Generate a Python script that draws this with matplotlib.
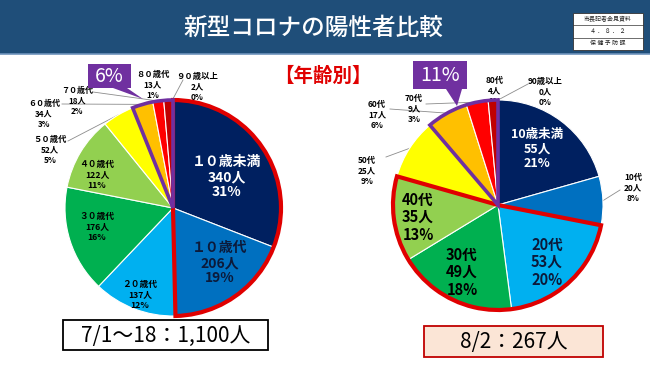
import matplotlib
matplotlib.use('Agg')
import matplotlib.pyplot as plt
from matplotlib.patches import Wedge, Rectangle, Polygon
import numpy as np

plt.rcParams['font.family'] = ['Noto Sans CJK JP', 'DejaVu Sans']

# ---------------- data ----------------
left_names = ['１０歳未満', '１０歳代', '２０歳代', '３０歳代', '４０歳代',
              '５０歳代', '６０歳代', '７０歳代', '８０歳代', '９０歳以上']
left_counts = [340, 206, 137, 176, 122, 52, 34, 18, 13, 2]
left_pcts = [31, 19, 12, 16, 11, 5, 3, 2, 1, 0]

right_names = ['10歳未満', '10代', '20代', '30代', '40代',
               '50代', '60代', '70代', '80代', '90歳以上']
right_counts = [55, 20, 53, 49, 35, 25, 17, 9, 4, 0]
right_pcts = [21, 8, 20, 18, 13, 9, 6, 3, 1, 0]

slice_colors = ['#002060', '#0070C0', '#00B0F0', '#00B050', '#92D050',
                '#FFFF00', '#FFC000', '#FF0000', '#C00000', '#7030A0']

title = '新型コロナの陽性者比較'
subtitle = '【年齢別】'
left_total_label = '7/1～18：1,100人'
right_total_label = '8/2：267人'
left_group_pct = '6%'
right_group_pct = '11%'
stamp_rows = ['市長記者会見資料', '４ ． ８ ． ２', '保 健 予 防 課']

# highlighted groups (index ranges of slices)
left_red_group = (0, 2)
left_purple_group = (6, 10)
right_red_group = (2, 5)
right_purple_group = (6, 10)

# ---------------- layout ----------------
W, H = 650, 365
fig = plt.figure(figsize=(6.5, 3.65), dpi=100)
ax = fig.add_axes([0, 0, 1, 1])

L_C, L_R = (173, 208), 108
R_C, R_R = (498, 205), 105

RED = '#E00000'
PURPLE = '#7030A0'


def draw_pie(counts, center, radius):
    # y axis is inverted (pixel coords): startangle -90 + counterclock -> clockwise from top on screen
    ax.pie(counts, colors=slice_colors, startangle=-90, counterclock=True,
           center=center, radius=radius,
           wedgeprops=dict(edgecolor='white', linewidth=0.8))


def frac_bounds(counts, i0, i1):
    c = np.cumsum([0] + list(counts)) / float(sum(counts))
    return c[i0], c[i1]


def outline(counts, center, radius, grp, color, lw):
    a, b = frac_bounds(counts, *grp)
    ax.add_patch(Wedge(center, radius, -90 + 360 * a, -90 + 360 * b,
                       fill=False, edgecolor=color, linewidth=lw, zorder=5,
                       joinstyle='miter'))


def edge_point(counts, center, radius, i):
    a, b = frac_bounds(counts, i, i + 1)
    ang = np.deg2rad(-90 + 360 * (a + b) / 2)
    return center[0] + radius * np.cos(ang), center[1] + radius * np.sin(ang)


draw_pie(left_counts, L_C, L_R)
draw_pie(right_counts, R_C, R_R)

ax.set_xlim(0, W)
ax.set_ylim(H, 0)
ax.set_aspect('auto')
ax.axis('off')

outline(left_counts, L_C, L_R, left_red_group, RED, 3.0)
outline(left_counts, L_C, L_R, left_purple_group, PURPLE, 2.6)
outline(right_counts, R_C, R_R, right_red_group, RED, 3.0)
outline(right_counts, R_C, R_R, right_purple_group, PURPLE, 2.6)

# header
ax.add_patch(Rectangle((0, 0), W, 54, facecolor='#1F4E79', edgecolor='none', zorder=1))
ax.plot([0, W], [54, 54], color='#6E93BC', lw=1.2, zorder=1)
ax.text(313, 28, title, color='white', fontsize=17, fontweight='medium',
        ha='center', va='center', zorder=2)

# stamp box
ax.add_patch(Rectangle((573, 13), 70, 37, facecolor='white', edgecolor='#333333', lw=0.6, zorder=2))
for yy in (25.3, 37.6):
    ax.plot([573, 643], [yy, yy], color='#333333', lw=0.5, zorder=3)
for k, txt in enumerate(stamp_rows):
    ax.text(608, 19.2 + 12.3 * k, txt, fontsize=4.3, ha='center', va='center', zorder=3,
            color='#222222')

# subtitle
ax.text(323, 76, subtitle, color=RED, fontsize=14, fontweight='bold', ha='center', va='center')

# callouts
ax.add_patch(Polygon([(88, 64), (131, 64), (131, 88), (127, 88), (143, 99), (113, 88), (88, 88)],
                     closed=True, facecolor=PURPLE, edgecolor='none', zorder=6))
ax.text(109.5, 76, left_group_pct, color='white', fontsize=14, ha='center', va='center', zorder=7)
ax.add_patch(Polygon([(413, 61), (467, 61), (467, 89), (462, 89), (457, 106), (446, 89), (413, 89)],
                     closed=True, facecolor=PURPLE, edgecolor='none', zorder=6))
ax.text(440, 75.5, right_group_pct, color='white', fontsize=14, ha='center', va='center', zorder=7)

# ---------------- slice labels ----------------
left_label_pos = [(227, 177), (220, 263), (140, 295), (97, 227), (97, 175),
                  (50, 150), (44, 114), (77, 101), (153, 85), (197, 87)]
left_label_size = [10, 10, 6.3, 6.3, 6.3, 6, 5.8, 5.8, 6, 6]
left_label_color = ['white', '#0C1A3A', 'black', 'black', 'black',
                    'black', 'black', 'black', 'black', 'black']
left_leader_start = {5: (68, 141), 6: (62, 104), 7: (93, 92), 9: (183, 80)}

right_label_pos = [(537, 149), (633, 188), (547, 262), (462, 272), (418, 217),
                   (367, 171), (377, 115), (414, 109), (495, 91), (545, 92)]
right_label_size = [9, 6, 10.5, 10.5, 10.5, 6, 6, 6, 6, 6]
right_label_color = ['white', 'black', '#0C1A3A', 'black', 'black',
                     'black', 'black', 'black', 'black', 'black']
right_leader_start = {1: (620, 190), 5: (386, 157), 6: (390, 109), 7: (426, 104), 9: (528, 84)}

for names, counts, pcts, pos, sizes, cols, leaders, center, radius in [
        (left_names, left_counts, left_pcts, left_label_pos, left_label_size,
         left_label_color, left_leader_start, L_C, L_R),
        (right_names, right_counts, right_pcts, right_label_pos, right_label_size,
         right_label_color, right_leader_start, R_C, R_R)]:
    for i, name in enumerate(names):
        x, y = pos[i]
        big = sizes[i] >= 9
        ax.text(x, y, f'{name}\n{counts[i]}人\n{pcts[i]}%', fontsize=sizes[i],
                color=cols[i], ha='center', va='center',
                linespacing=1.12 if big else 1.2,
                fontweight='bold', zorder=4 if i != 8 else 0.5)
        if i in leaders:
            ex, ey = edge_point(counts, center, radius, i)
            sx, sy = leaders[i]
            ax.plot([sx, ex], [sy, ey], color='#8C8C8C', lw=0.6, zorder=0.8)

# ---------------- total boxes ----------------
ax.add_patch(Rectangle((63, 320), 205, 30, facecolor='white', edgecolor='black', lw=1.3, zorder=3))
ax.text(165.5, 335.5, left_total_label, fontsize=15, ha='center', va='center', zorder=4)
ax.add_patch(Rectangle((424, 326), 179, 31, facecolor='#FBE5D6', edgecolor='#C00000', lw=1.3, zorder=3))
ax.text(513.5, 342, right_total_label, fontsize=15, ha='center', va='center', zorder=4)

fig.savefig('out.png', dpi=100, facecolor='white')
